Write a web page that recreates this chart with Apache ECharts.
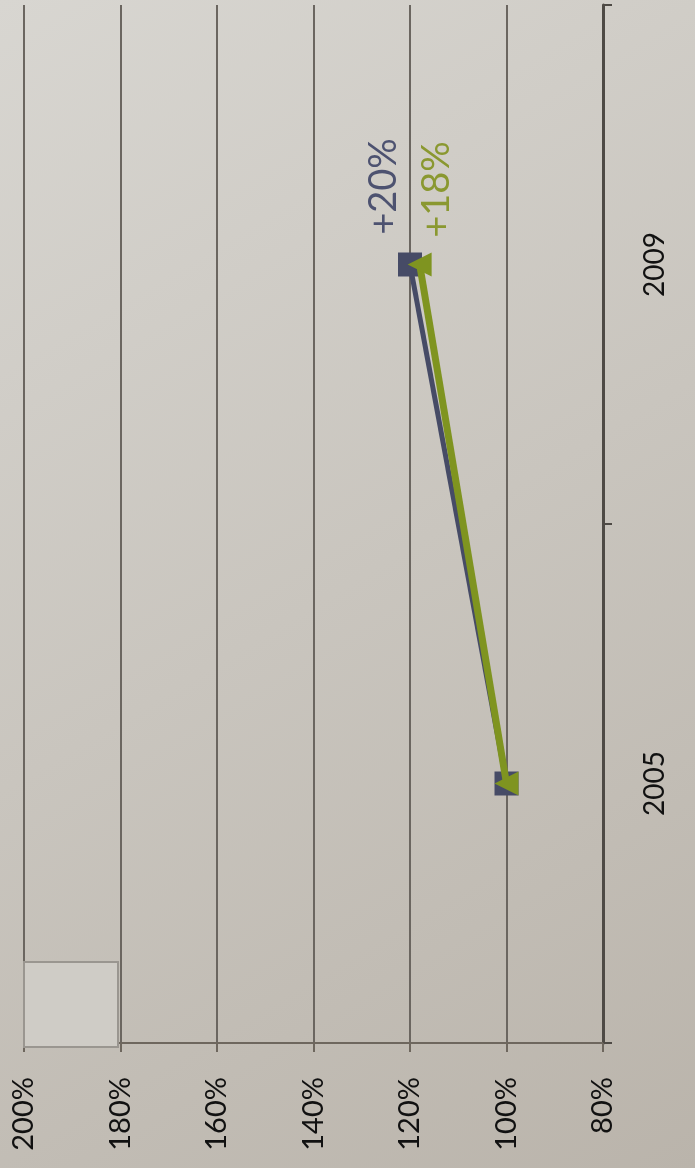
<!DOCTYPE html>
<html><head><meta charset="utf-8">
<script src="https://cdn.jsdelivr.net/npm/echarts@6/dist/echarts.min.js"></script>
<style>html,body{margin:0;padding:0;}#c{width:695px;height:1168px;}</style>
</head><body><div id="c"></div>
<script>
const categories = ['2005', '2009'];
const seriesBlue = [100, 120];
const seriesGreen = [100, 118];
const labelsBlue = ['', '+20%'];
const labelsGreen = ['', '+18%'];
const valueTicks = [80, 100, 120, 140, 160, 180, 200];

const FONT = 'Lato, "Open Sans", sans-serif';
const chart = echarts.init(document.getElementById('c'));

function mk(vals, labels, color, offset) {
  return vals.map((v, i) => labels[i] ? {
    value: v,
    label: { show: true, formatter: labels[i], position: 'inside', rotate: 90, align: 'center', verticalAlign: 'middle',
      offset: offset, color: color, fontSize: 38, fontFamily: FONT }
  } : v);
}

chart.setOption({
  backgroundColor: new echarts.graphic.LinearGradient(0, 0, 1, 1, [
    { offset: 0, color: '#d8d6d1' }, { offset: 1, color: '#bab4ab' }
  ]),
  animation: false,
  grid: { left: 24, right: 92, top: 5, bottom: 125, containLabel: false },
  xAxis: {
    type: 'value', inverse: true, min: valueTicks[0], max: valueTicks[valueTicks.length - 1], interval: 20,
    position: 'bottom',
    axisLine: { show: true, lineStyle: { color: '#6e675e', width: 2 } },
    axisTick: { show: true, length: 9, lineStyle: { color: '#6e675e', width: 2 } },
    splitLine: { show: true, lineStyle: { color: '#6b6660', width: 2 } },
    axisLabel: { rotate: 90, margin: 34, fontSize: 29, color: '#111', fontFamily: FONT, formatter: v => v + '%' }
  },
  yAxis: {
    type: 'category', data: categories, position: 'right', boundaryGap: true,
    axisLine: { show: true, onZero: false, lineStyle: { color: '#4e4a45', width: 3 } },
    axisTick: { show: true, length: 9, lineStyle: { color: '#4e4a45', width: 2 } },
    axisLabel: { rotate: 90, margin: 38, fontSize: 28, color: '#111', fontFamily: FONT },
    splitLine: { show: false }
  },
  series: [
    { type: 'line', data: mk(seriesBlue, labelsBlue, '#4d5270', [78, -26]), symbol: 'rect', symbolSize: 24,
      lineStyle: { color: '#464b66', width: 5 }, itemStyle: { color: '#464b66' }, z: 3 },
    { type: 'line', data: mk(seriesGreen, labelsGreen, '#8a9830', [75, 17]), symbol: 'triangle', symbolRotate: 90, symbolSize: 24,
      lineStyle: { color: '#7f9420', width: 7 }, itemStyle: { color: '#7f9420' }, z: 4 }
  ],
  graphic: [
    { type: 'rect', shape: { x: 24, y: 962, width: 94, height: 85 },
      style: { fill: '#cfccc6', stroke: '#9a9690', lineWidth: 2 }, z: 10 }
  ]
});
</script></body></html>
